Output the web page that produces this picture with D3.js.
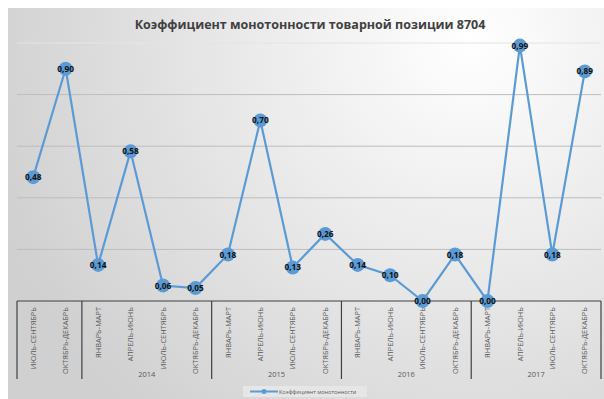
<!DOCTYPE html>
<meta charset="utf-8">
<style>
    body { margin: 0; background: #fff; }
    text { font-family: "Open Sans", "DejaVu Sans", sans-serif; }
</style>
<body>
<svg id="chart" width="604" height="399"></svg>
</body>
<script src="https://d3js.org/d3.v7.min.js"></script>
<script>

    var title = "Коэффициент монотонности товарной позиции 8704";
    var seriesName = "Коэффициент монотонности";
    var quarters = ["ИЮЛЬ-СЕНТЯБРЬ", "ОКТЯБРЬ-ДЕКАБРЬ",
        "ЯНВАРЬ-МАРТ", "АПРЕЛЬ-ИЮНЬ", "ИЮЛЬ-СЕНТЯБРЬ", "ОКТЯБРЬ-ДЕКАБРЬ",
        "ЯНВАРЬ-МАРТ", "АПРЕЛЬ-ИЮНЬ", "ИЮЛЬ-СЕНТЯБРЬ", "ОКТЯБРЬ-ДЕКАБРЬ",
        "ЯНВАРЬ-МАРТ", "АПРЕЛЬ-ИЮНЬ", "ИЮЛЬ-СЕНТЯБРЬ", "ОКТЯБРЬ-ДЕКАБРЬ",
        "ЯНВАРЬ-МАРТ", "АПРЕЛЬ-ИЮНЬ", "ИЮЛЬ-СЕНТЯБРЬ", "ОКТЯБРЬ-ДЕКАБРЬ"];
    var years = ["", "2014", "2015", "2016", "2017"];
    var yearSizes = [2, 4, 4, 4, 4];
    var values = [0.48, 0.90, 0.14, 0.58, 0.06, 0.05, 0.18, 0.70, 0.13, 0.26,
        0.14, 0.10, 0.00, 0.18, 0.00, 0.99, 0.18, 0.89];
    var yTicks = [0.2, 0.4, 0.6, 0.8, 1.0];

    var svg = d3.select("#chart");
    var lineColor = "#5b9bd5";

    // background with soft gradient
    var defs = svg.append("defs");
    var grad = defs.append("radialGradient").attr("id", "bg")
        .attr("gradientUnits", "userSpaceOnUse")
        .attr("cx", 470).attr("cy", 40).attr("r", 500);
    grad.append("stop").attr("offset", "0%").attr("stop-color", "#ffffff");
    grad.append("stop").attr("offset", "100%").attr("stop-color", "#d0d0d0");

    svg.append("rect").attr("x", 8).attr("y", 8).attr("width", 596).attr("height", 391)
        .attr("fill", "url(#bg)");

    var plotLeft = 17, plotRight = 601, plotTop = 43, plotBottom = 301;

    var idx = d3.range(values.length);
    var x = d3.scaleBand().domain(idx).range([plotLeft, plotRight]);
    var y = d3.scaleLinear().domain([0, 1]).range([plotBottom, plotTop]);

    // title
    svg.append("text").attr("x", 310).attr("y", 29)
        .attr("text-anchor", "middle")
        .attr("font-size", "12.5px").attr("font-weight", "bold")
        .attr("fill", "#404040")
        .text(title);

    // gridlines
    svg.append("g").selectAll("line").data(yTicks).join("line")
        .attr("x1", plotLeft).attr("x2", plotRight)
        .attr("y1", function (d) { return y(d); })
        .attr("y2", function (d) { return y(d); })
        .attr("stroke", function (d) { return d === 1 ? "#e4e4e4" : "#bdbdbd"; })
        .attr("stroke-width", 1);

    // category axis
    var axisG = svg.append("g");
    axisG.append("line").attr("x1", plotLeft).attr("x2", plotRight)
        .attr("y1", plotBottom).attr("y2", plotBottom)
        .attr("stroke", "#404040").attr("stroke-width", 1);

    var bounds = [0];
    yearSizes.forEach(function (s, i) { bounds.push(bounds[i] + s); });
    axisG.selectAll("line.sep").data(bounds).join("line").attr("class", "sep")
        .attr("x1", function (d) { return d < values.length ? x(d) : plotRight; })
        .attr("x2", function (d) { return d < values.length ? x(d) : plotRight; })
        .attr("y1", plotBottom).attr("y2", 379)
        .attr("stroke", "#404040").attr("stroke-width", 1.2);

    axisG.selectAll("text.cat").data(quarters).join("text").attr("class", "cat")
        .attr("transform", function (d, i) {
            return "translate(" + (x(i) + x.bandwidth() / 2 + 2.7) + ",307) rotate(-90)";
        })
        .attr("text-anchor", "end")
        .attr("font-size", "7.4px").attr("fill", "#595959")
        .text(function (d) { return d; });

    axisG.selectAll("text.year").data(years).join("text").attr("class", "year")
        .attr("x", function (d, i) {
            var a = x(bounds[i]);
            var b = bounds[i + 1] < values.length ? x(bounds[i + 1]) : plotRight;
            return (a + b) / 2;
        })
        .attr("y", 377)
        .attr("text-anchor", "middle")
        .attr("font-size", "7.5px").attr("fill", "#595959")
        .text(function (d) { return d; });

    // series line
    var line = d3.line()
        .x(function (d, i) { return x(i) + x.bandwidth() / 2; })
        .y(function (d) { return y(d); });

    svg.append("path").datum(values)
        .attr("d", line)
        .attr("fill", "none")
        .attr("stroke", lineColor)
        .attr("stroke-width", 2.2);

    var pts = svg.append("g").selectAll("g").data(values).join("g")
        .attr("transform", function (d, i) {
            return "translate(" + (x(i) + x.bandwidth() / 2) + "," + y(d) + ")";
        });
    pts.append("circle").attr("r", 7).attr("fill", lineColor);
    pts.append("text")
        .attr("y", 3)
        .attr("text-anchor", "middle")
        .attr("font-size", "8.3px").attr("font-weight", "bold")
        .attr("fill", "#111")
        .text(function (d) { return d3.format(".2f")(d).replace(".", ","); });

    // legend
    var lg = svg.append("g").attr("transform", "translate(243,386)");
    lg.append("rect").attr("width", 124).attr("height", 11).attr("fill", "#e6e6e6");
    lg.append("line").attr("x1", 7).attr("x2", 35).attr("y1", 5.5).attr("y2", 5.5)
        .attr("stroke", lineColor).attr("stroke-width", 2);
    lg.append("circle").attr("cx", 21).attr("cy", 5.5).attr("r", 2.5).attr("fill", lineColor);
    lg.append("text").attr("x", 36).attr("y", 8)
        .attr("font-size", "5.5px").attr("fill", "#595959")
        .text(seriesName);

</script>
